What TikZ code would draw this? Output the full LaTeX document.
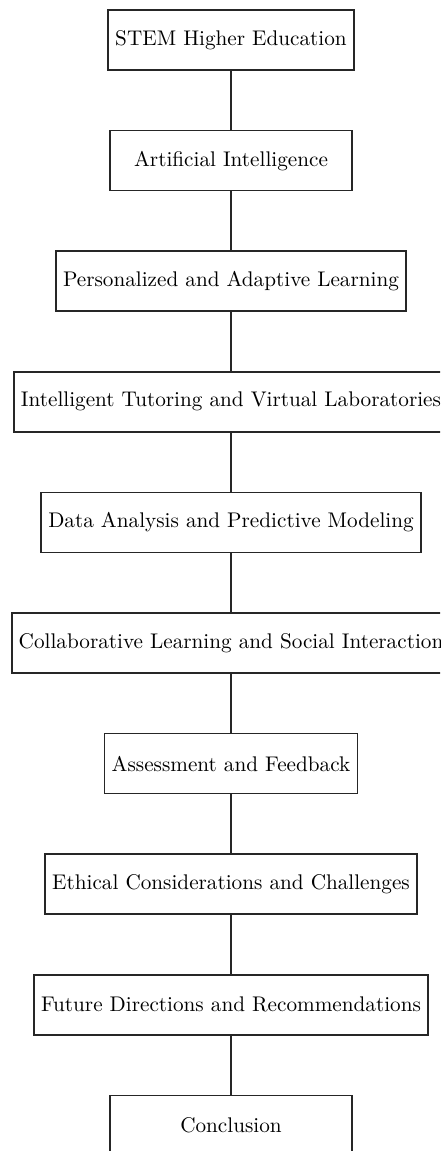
\documentclass[tikz,border=0pt]{standalone}
\usetikzlibrary{positioning}
\begin{document}
\begin{tikzpicture}[x=0.4717pt, y=-0.4717pt,
  stage/.style={draw=black!85, line width=0.8pt, minimum height=28.3pt, minimum width=114pt, inner sep=3.33pt, fill=white},
  link/.style={draw=black!85, line width=0.8pt}]
\useasboundingbox (0,0) rectangle (440,1151);
\clip (0,0) rectangle (440,1151);
\node[stage] (n1) at (231,40) {STEM Higher Education};
\node[stage] (n2) at (231,160.6) {Artificial Intelligence};
\node[stage] (n3) at (231,281.2) {Personalized and Adaptive Learning};
\node[stage] (n4) at (231,401.8) {Intelligent Tutoring and Virtual Laboratories};
\node[stage] (n5) at (231,522.4) {Data Analysis and Predictive Modeling};
\node[stage] (n6) at (231,643) {Collaborative Learning and Social Interaction};
\node[stage] (n7) at (231,763.6) {Assessment and Feedback};
\node[stage] (n8) at (231,884.2) {Ethical Considerations and Challenges};
\node[stage] (n9) at (231,1004.8) {Future Directions and Recommendations};
\node[stage] (n10) at (231,1125.4) {Conclusion};
\foreach \a/\b in {n1/n2,n2/n3,n3/n4,n4/n5,n5/n6,n6/n7,n7/n8,n8/n9,n9/n10}
  \draw[link] (\a) -- (\b);
\end{tikzpicture}
\end{document}
